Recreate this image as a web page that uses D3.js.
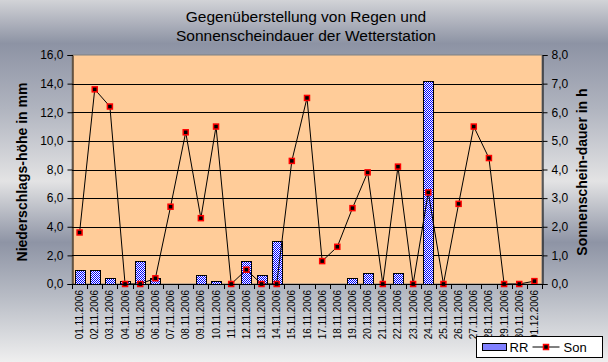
<!DOCTYPE html>
<html>
<head>
<meta charset="utf-8">
<script src="https://d3js.org/d3.v7.min.js"></script>
<style>
  body { margin: 0; }
  svg { display: block; font-family: "Liberation Sans", Arial, sans-serif; }
</style>
</head>
<body>
<div id="chart"></div>
<script>
// Tage (Kategorien)
const days = ["01.11.2006","02.11.2006","03.11.2006","04.11.2006","05.11.2006","06.11.2006",
  "07.11.2006","08.11.2006","09.11.2006","10.11.2006","11.11.2006","12.11.2006","13.11.2006",
  "14.11.2006","15.11.2006","16.11.2006","17.11.2006","18.11.2006","19.11.2006","20.11.2006",
  "21.11.2006","22.11.2006","23.11.2006","24.11.2006","25.11.2006","26.11.2006","27.11.2006",
  "28.11.2006","29.11.2006","30.11.2006","01.12.2006"];

// Niederschlag RR in mm
const rain = [1.0, 1.0, 0.4, 0.2, 1.6, 0.4, 0, 0, 0.6, 0.2, 0, 1.6, 0.6, 3.0, 0, 0,
  0, 0, 0.4, 0.8, 0, 0.8, 0, 14.2, 0, 0, 0, 0, 0, 0, 0];

// Sonnenscheindauer in h
const sun = [1.8, 6.8, 6.2, 0, 0, 0.2, 2.7, 5.3, 2.3, 5.5, 0, 0.5, 0, 0, 4.3, 6.5,
  0.8, 1.3, 2.65, 3.9, 0, 4.1, 0, 3.2, 0, 2.8, 5.5, 4.4, 0, 0, 0.1];

const leftTicks = [0, 2, 4, 6, 8, 10, 12, 14, 16];
const rightTicks = [0, 1, 2, 3, 4, 5, 6, 7, 8];

const W = 608, H = 362;
const plot = { left: 72, right: 542, top: 55, bottom: 284 };

const svg = d3.select("#chart").append("svg")
  .attr("width", W).attr("height", H);

const defs = svg.append("defs");

// metallischer Hintergrund
const grad = defs.append("linearGradient")
  .attr("id", "bg").attr("x1", 0).attr("y1", 0).attr("x2", 0).attr("y2", 1);
[[0, "#d2d3d7"], [0.12, "#8d93a4"], [0.3, "#b0b4bf"], [0.5, "#e3e3e4"],
 [0.67, "#8e94a5"], [0.82, "#b8bcc5"], [1, "#efefef"]].forEach(([o, c]) => {
  grad.append("stop").attr("offset", o).attr("stop-color", c);
});

// Karomuster für die Balken
const pat = defs.append("pattern")
  .attr("id", "checker").attr("patternUnits", "userSpaceOnUse")
  .attr("width", 2).attr("height", 2);
pat.append("rect").attr("width", 2).attr("height", 2).attr("fill", "#ffffff");
pat.append("rect").attr("width", 1).attr("height", 1).attr("fill", "#0000ff");
pat.append("rect").attr("x", 1).attr("y", 1).attr("width", 1).attr("height", 1).attr("fill", "#0000ff");

svg.append("rect").attr("width", W).attr("height", H).attr("fill", "url(#bg)");

// Skalen
const x = d3.scaleBand().domain(days).range([plot.left, plot.right]).padding(0);
const yL = d3.scaleLinear().domain([0, 16]).range([plot.bottom, plot.top]);
const yR = d3.scaleLinear().domain([0, 8]).range([plot.bottom, plot.top]);

// Plotfläche
svg.append("rect")
  .attr("x", plot.left).attr("y", plot.top)
  .attr("width", plot.right - plot.left).attr("height", plot.bottom - plot.top)
  .attr("fill", "#ffcc99").attr("stroke", "#808080");

// Gitterlinien
svg.append("g").selectAll("line")
  .data(leftTicks.slice(1, -1))
  .join("line")
  .attr("x1", plot.left).attr("x2", plot.right)
  .attr("y1", d => Math.round(yL(d)) + 0.5).attr("y2", d => Math.round(yL(d)) + 0.5)
  .attr("stroke", "#000").attr("stroke-width", 1);

// Balken RR
const barW = x.bandwidth() * 0.66;
svg.append("g").selectAll("rect")
  .data(rain.map((v, i) => ({ day: days[i], v })).filter(d => d.v > 0))
  .join("rect")
  .attr("x", d => Math.round(x(d.day) + (x.bandwidth() - barW) / 2) + 0.5)
  .attr("y", d => Math.round(yL(d.v)) + 0.5)
  .attr("width", Math.round(barW))
  .attr("height", d => Math.round(yL(0)) - Math.round(yL(d.v)))
  .attr("fill", "url(#checker)").attr("stroke", "#000");

// Linie Son
const cx = d => x(d) + x.bandwidth() / 2;
const line = d3.line().x((d, i) => cx(days[i])).y(d => yR(d));
svg.append("path").datum(sun)
  .attr("d", line).attr("fill", "none").attr("stroke", "#000").attr("stroke-width", 1);

svg.append("g").selectAll("rect")
  .data(sun)
  .join("rect")
  .attr("x", (d, i) => cx(days[i]) - 2.5)
  .attr("y", d => yR(d) - 2.5)
  .attr("width", 5).attr("height", 5)
  .attr("fill", "#000").attr("stroke", "#ff0000").attr("stroke-width", 1.5);

// Achsen
const axL = svg.append("g").attr("transform", `translate(${plot.left + 0.5},0)`)
  .call(d3.axisLeft(yL).tickValues(leftTicks).tickSize(5).tickPadding(4)
    .tickFormat(d => d3.format(".1f")(d).replace(".", ",")));
const axR = svg.append("g").attr("transform", `translate(${plot.right + 0.5},0)`)
  .call(d3.axisRight(yR).tickValues(rightTicks).tickSize(5).tickPadding(4)
    .tickFormat(d => d3.format(".1f")(d).replace(".", ",")));
[axL, axR].forEach(a => {
  a.select(".domain").attr("stroke", "#000");
  a.selectAll("line").attr("stroke", "#000");
  a.selectAll("text").attr("font-size", 12).attr("fill", "#000")
    .attr("font-family", "'Liberation Sans', Arial, sans-serif");
});

// x-Achse
const xAxis = svg.append("g");
xAxis.append("line")
  .attr("x1", plot.left).attr("x2", plot.right)
  .attr("y1", plot.bottom + 0.5).attr("y2", plot.bottom + 0.5).attr("stroke", "#000");
xAxis.selectAll("line.tick")
  .data(days.concat(["end"]))
  .join("line").attr("class", "tick")
  .attr("x1", (d, i) => Math.round(i < days.length ? x(d) : plot.right) + 0.5)
  .attr("x2", (d, i) => Math.round(i < days.length ? x(d) : plot.right) + 0.5)
  .attr("y1", plot.bottom).attr("y2", plot.bottom + 5)
  .attr("stroke", "#000");
xAxis.selectAll("text")
  .data(days)
  .join("text")
  .attr("transform", d => `translate(${cx(d) + 3.5},${plot.bottom + 6}) rotate(-90)`)
  .attr("text-anchor", "end")
  .attr("font-size", 10)
  .text(d => d);

// Titel
const title = svg.append("text").attr("text-anchor", "middle")
  .attr("font-size", 15.5).attr("fill", "#000");
title.append("tspan").attr("x", 306).attr("y", 22).text("Gegenüberstellung von Regen und");
title.append("tspan").attr("x", 306).attr("y", 41).text("Sonnenscheindauer der Wetterstation");

// Achsentitel
svg.append("text")
  .attr("transform", `translate(27,172) rotate(-90)`)
  .attr("text-anchor", "middle").attr("font-size", 14).attr("font-weight", "bold")
  .text("Niederschlags-höhe in mm");
svg.append("text")
  .attr("transform", `translate(587,172) rotate(-90)`)
  .attr("text-anchor", "middle").attr("font-size", 14).attr("font-weight", "bold")
  .text("Sonnenschein-dauer in h");

// Legende
const lg = svg.append("g").attr("transform", "translate(476.5,336.5)");
lg.append("rect").attr("width", 126).attr("height", 21)
  .attr("fill", "#fff").attr("stroke", "#000");
lg.append("rect").attr("x", 6).attr("y", 7).attr("width", 24).attr("height", 7)
  .attr("fill", "url(#checker)").attr("stroke", "#000");
lg.append("text").attr("x", 33).attr("y", 15.5).attr("font-size", 13).text("RR");
lg.append("line").attr("x1", 56).attr("x2", 83).attr("y1", 10.5).attr("y2", 10.5)
  .attr("stroke", "#000");
lg.append("rect").attr("x", 67).attr("y", 8).attr("width", 5).attr("height", 5)
  .attr("fill", "#000").attr("stroke", "#ff0000").attr("stroke-width", 1.5);
lg.append("text").attr("x", 87).attr("y", 15.5).attr("font-size", 13).text("Son");
</script>
</body>
</html>
